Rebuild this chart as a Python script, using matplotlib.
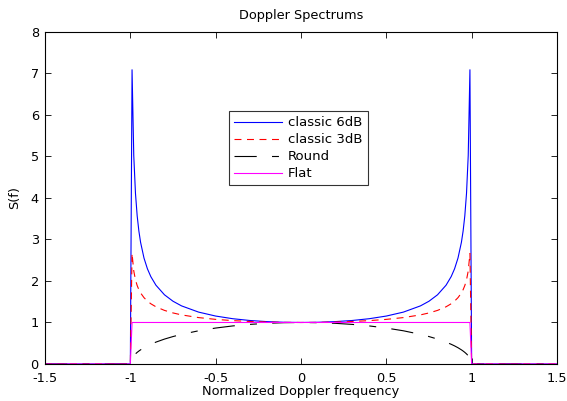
"""
 doppler spectrum shapes: classic 6dB / 3dB, round and flat
"""
import matplotlib.pyplot as plt
import numpy as np

plt.rcParams['font.family'] = ['DejaVu Sans']
plt.rcParams['font.size'] = 9.3
plt.rcParams['lines.scale_dashes'] = False

# normalized frequency (positive half, mirrored below)
f_half = [0.0, 0.1, 0.2, 0.3, 0.4, 0.5, 0.6, 0.7, 0.75, 0.8, 0.85, 0.88,
          0.9, 0.92, 0.94, 0.95, 0.96, 0.97, 0.98, 0.99, 1.0, 1.5]
s6_half = [1.00, 1.005, 1.021, 1.048, 1.091, 1.155, 1.25, 1.40, 1.512,
           1.667, 1.898, 2.105, 2.294, 2.552, 2.931, 3.203, 3.571, 4.113,
           5.025, 7.089, 0.0, 0.0]
s3_half = [1.00, 1.002, 1.010, 1.024, 1.045, 1.075, 1.118, 1.183, 1.230,
           1.291, 1.378, 1.451, 1.515, 1.598, 1.712, 1.790, 1.890, 2.028,
           2.242, 2.663, 0.0, 0.0]
rnd_half = [1.00, 0.995, 0.980, 0.954, 0.917, 0.866, 0.80, 0.714, 0.661,
            0.60, 0.527, 0.475, 0.436, 0.392, 0.341, 0.312, 0.280, 0.243,
            0.199, 0.141, 0.0, 0.0]
flat_half = [1, 1, 1, 1, 1, 1, 1, 1, 1, 1, 1, 1,
             1, 1, 1, 1, 1, 1, 1, 1, 0, 0]

labels = ['classic 6dB', 'classic 3dB', 'Round', 'Flat']


def mirror(v, sign=1):
    v = np.asarray(v, dtype=float)
    return np.concatenate([sign * v[:0:-1], v])


f = mirror(f_half, -1)
s6 = mirror(s6_half)
s3 = mirror(s3_half)
rnd = mirror(rnd_half)
flat = mirror(flat_half)

fig = plt.figure(figsize=(5.67, 4.01), dpi=100)
ax = fig.add_axes([0.0794, 0.0923, 0.9029, 0.828])

ax.plot(f, s6, color='#0000ff', lw=0.8, label=labels[0])
ax.plot(f, s3, color='#ff0000', lw=0.8, dashes=(5, 4), label=labels[1])
ax.plot(f, rnd, color='k', lw=0.8, dashes=(16, 11, 5, 11), label=labels[2])
ax.plot(f, flat, color='#ff00ff', lw=0.8, label=labels[3])

ax.set_xlim(-1.5, 1.5)
ax.set_ylim(0, 8)
ax.set_xticks(np.arange(-1.5, 1.51, 0.5))
ax.set_xticklabels(['-1.5', '-1', '-0.5', '0', '0.5', '1', '1.5'])
ax.set_yticks(range(0, 9))
ax.tick_params(direction='in', top=True, right=True, length=4, width=0.6)
ax.tick_params(axis='x', pad=5.5)
ax.tick_params(axis='y', pad=4.5)
for sp in ax.spines.values():
    sp.set_linewidth(0.8)

ax.set_title('Doppler Spectrums', fontsize=9.3, pad=9)
ax.set_xlabel('Normalized Doppler frequency', labelpad=0)
ax.set_ylabel('S(f)', labelpad=7)

leg = ax.legend(loc='upper left', bbox_to_anchor=(0.359, 0.762),
                frameon=True, fancybox=False, shadow=False, fontsize=9.5,
                handlelength=3.6, handletextpad=0.5, labelspacing=0.3,
                borderpad=0.4, borderaxespad=0)
leg.get_frame().set_edgecolor('k')
leg.get_frame().set_linewidth(0.8)

plt.savefig('out.png', dpi=100)
